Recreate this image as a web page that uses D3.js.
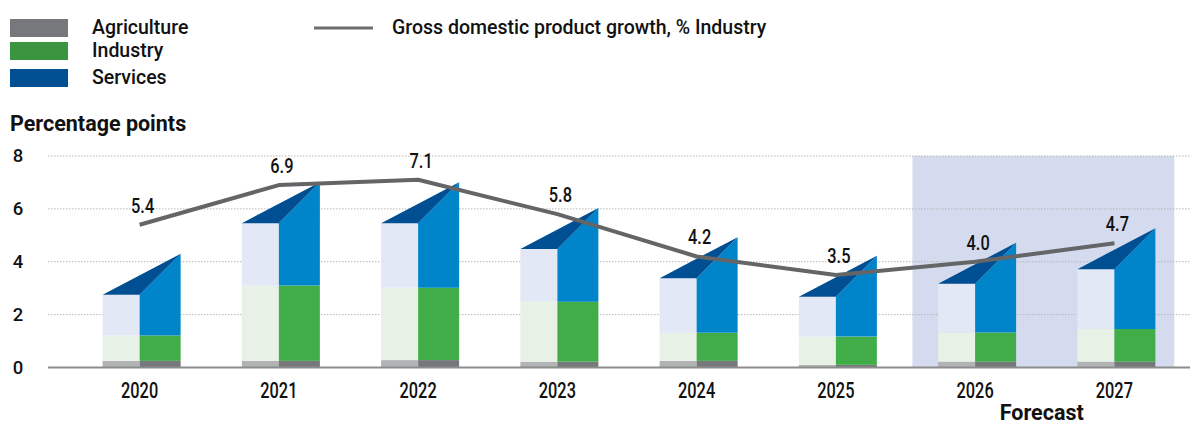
<!DOCTYPE html>
<html>
<head>
<meta charset="utf-8">
<script src="https://cdn.jsdelivr.net/npm/d3@7"></script>
<style>
  html, body { margin: 0; padding: 0; background: #fff; }
  svg { display: block; font-family: Roboto, "Noto Sans", sans-serif; }
</style>
</head>
<body>
<svg id="chart" width="1190" height="426"></svg>
<script>
// Contributions to growth, percentage points
const years = ["2020", "2021", "2022", "2023", "2024", "2025", "2026", "2027"];
const agriculture = [0.25, 0.25, 0.28, 0.22, 0.25, 0.10, 0.22, 0.22];
const industry    = [0.96, 2.85, 2.74, 2.27, 1.06, 1.07, 1.10, 1.24];
const services    = [1.54, 2.36, 2.44, 1.99, 2.07, 1.51, 1.85, 2.26];
// Gross domestic product growth, % Industry
const growth = [5.4, 6.9, 7.1, 5.8, 4.2, 3.5, 4.0, 4.7];
const forecastYears = ["2026", "2027"];
const yTicks = [0, 2, 4, 6, 8];

const seriesNames = ["Agriculture", "Industry", "Services"];
const sideColors  = ["#77787b", "#41ad49", "#0085cb"];
const frontColors = ["#b1b3b5", "#e8f1e6", "#e2e8f5"];
const legendColors = ["#77787b", "#3a9440", "#004f93"];
const topColor = "#004f93";

const svg = d3.select("#chart");

const x = d3.scaleBand().domain(years).range([70, 1184]).padding(0);
const y = d3.scaleLinear().domain([0, 8]).range([367.5, 156]);
const cx = d => x(d) + x.bandwidth() / 2;

const frontW = 37, sideW = 41, skew = 41;

// condensed text helper
function ctext(g, tx, ty, str, sx) {
  return g.append("text")
    .attr("transform", `translate(${tx},${ty}) scale(${sx},1)`)
    .text(str);
}

// forecast shading
const step = x.step();
svg.append("rect")
  .attr("x", cx(forecastYears[0]) - 0.45 * step)
  .attr("y", y(8))
  .attr("width", cx(forecastYears[1]) - cx(forecastYears[0]) + 0.88 * step)
  .attr("height", y(0) - y(8))
  .attr("fill", "#d5dbef");

// gridlines
svg.append("g").selectAll("line")
  .data(yTicks.filter(v => v > 0))
  .join("line")
  .attr("x1", 48).attr("x2", 1190)
  .attr("y1", d => y(d)).attr("y2", d => y(d))
  .attr("stroke", "#b5b5b5").attr("stroke-width", 1)
  .attr("stroke-dasharray", "1.5,1.5");

// y axis labels
const yAxis = d3.axisLeft(y).tickValues(yTicks).tickSize(0).tickFormat(d3.format("d"));
const yg = svg.append("g").attr("transform", "translate(30,0)").call(yAxis);
yg.select(".domain").remove();
yg.selectAll("text")
  .attr("font-size", 18.5).attr("font-weight", 500).attr("fill", "#111")
  .attr("font-family", "Roboto, sans-serif")
  .attr("text-anchor", "middle")
  .attr("dx", -9);

// bars
const barsG = svg.append("g");
years.forEach((yr, i) => {
  const c = cx(yr);
  const vals = [agriculture[i], industry[i], services[i]];
  let base = 0;
  vals.forEach((v, k) => {
    const y0 = y(base), y1 = y(base + v);
    // front face
    barsG.append("rect")
      .attr("x", c - frontW).attr("y", y1)
      .attr("width", frontW).attr("height", y0 - y1)
      .attr("fill", frontColors[k]);
    // side face
    if (k < 2) {
      barsG.append("rect")
        .attr("x", c).attr("y", y1)
        .attr("width", sideW).attr("height", y0 - y1)
        .attr("fill", sideColors[k]);
    } else {
      barsG.append("polygon")
        .attr("points", [[c, y0], [c, y1], [c + sideW, y1 - skew], [c + sideW, y0]].map(p => p.join(",")).join(" "))
        .attr("fill", sideColors[k]);
      // top face
      barsG.append("polygon")
        .attr("points", [[c - frontW, y1], [c, y1], [c + sideW, y1 - skew]].map(p => p.join(",")).join(" "))
        .attr("fill", topColor);
    }
    base += v;
  });
});

// baseline
svg.append("line")
  .attr("x1", 48).attr("x2", 1190)
  .attr("y1", y(0)).attr("y2", y(0))
  .attr("stroke", "#8c8c8c").attr("stroke-width", 2);

// growth line
const line = d3.line().x((d, i) => cx(years[i])).y(d => y(d));
svg.append("path")
  .datum(growth)
  .attr("d", line)
  .attr("fill", "none")
  .attr("stroke", "#646567")
  .attr("stroke-width", 4)
  .attr("stroke-linejoin", "round");

// growth labels
const lblG = svg.append("g").attr("font-size", 20).attr("font-weight", 500)
  .attr("fill", "#111").attr("text-anchor", "middle");
growth.forEach((v, i) => {
  ctext(lblG, cx(years[i]) + 3, y(v) - 12, v.toFixed(1), 0.82);
});

// x axis labels
const xg = svg.append("g").attr("font-size", 21.5).attr("font-weight", 500)
  .attr("fill", "#111").attr("text-anchor", "middle");
years.forEach(yr => ctext(xg, cx(yr), 398, yr, 0.76));

// forecast label
svg.append("text")
  .attr("x", (cx(forecastYears[0]) + cx(forecastYears[1])) / 2 - 3)
  .attr("y", 420)
  .attr("text-anchor", "middle")
  .attr("font-size", 21.5).attr("font-weight", "bold").attr("fill", "#111")
  .text("Forecast");

// axis title
svg.append("text")
  .attr("x", 10).attr("y", 131)
  .attr("font-size", 21.5).attr("font-weight", "bold").attr("fill", "#111")
  .text("Percentage points");

// legend
const lg = svg.append("g");
const swY = [19, 42, 69];
seriesNames.forEach((name, k) => {
  lg.append("rect")
    .attr("x", 10).attr("y", swY[k])
    .attr("width", 58).attr("height", 18)
    .attr("fill", legendColors[k]);
  lg.append("text")
    .attr("x", 92).attr("y", swY[k] + 15)
    .attr("font-size", 19.5).attr("font-weight", 500).attr("fill", "#111")
    .text(name);
});
lg.append("line")
  .attr("x1", 314).attr("x2", 373)
  .attr("y1", 28).attr("y2", 28)
  .attr("stroke", "#6d6e70").attr("stroke-width", 3);
lg.append("text")
  .attr("x", 392).attr("y", 34)
  .attr("font-size", 19.5).attr("font-weight", 500).attr("fill", "#111")
  .text("Gross domestic product growth, % Industry");
</script>
</body>
</html>
